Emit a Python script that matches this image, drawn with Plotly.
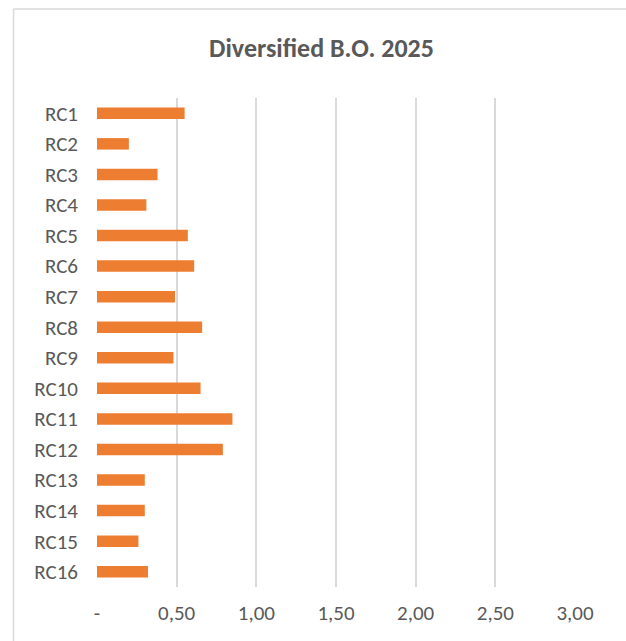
import plotly.graph_objects as go

categories = ["RC1", "RC2", "RC3", "RC4", "RC5", "RC6", "RC7", "RC8",
              "RC9", "RC10", "RC11", "RC12", "RC13", "RC14", "RC15", "RC16"]
values = [0.55, 0.20, 0.38, 0.31, 0.57, 0.61, 0.49, 0.66,
          0.48, 0.65, 0.85, 0.79, 0.30, 0.30, 0.26, 0.32]
tick_vals = [0, 0.5, 1.0, 1.5, 2.0, 2.5, 3.0]
tick_text = ["-", "0,50", "1,00", "1,50", "2,00", "2,50", "3,00"]
title_text = "Diversified B.O. 2025"

W, H = 626, 641
ML, MR, MT, MB = 97, 51, 98, 54
PW, PH = W - ML - MR, H - MT - MB

def px_x(px):
    return (px - ML) / PW

def px_y(py):
    return (H - MB - py) / PH

FONT = "Calibri, Carlito, Lato, sans-serif"

fig = go.Figure(go.Bar(
    x=values, y=categories, orientation="h",
    marker=dict(color="#ED7D31", line=dict(width=0)),
))

fig.update_layout(
    width=W, height=H,
    margin=dict(l=ML, r=MR, t=MT, b=MB),
    paper_bgcolor="white", plot_bgcolor="white",
    bargap=0.624,
    showlegend=False,
    title=dict(text=title_text, x=321.5 / W, xanchor="center",
               y=1 - 48 / H, yanchor="middle",
               font=dict(family=FONT, size=26, color="#595959", weight="bold")),
    xaxis=dict(range=[0, 3.0], tickvals=tick_vals, ticktext=tick_text,
               showgrid=True, gridcolor="#d9d9d9", gridwidth=1.5,
               zeroline=False, showline=False, ticks="",
               ticklabelstandoff=11,
               tickfont=dict(family=FONT, size=21, color="#595959")),
    yaxis=dict(autorange="reversed", showgrid=False, zeroline=False,
               showline=False, ticks="", ticklabelstandoff=18,
               tickfont=dict(family=FONT, size=21, color="#595959")),
    shapes=[
        dict(type="line", xref="paper", yref="paper",
             x0=px_x(13.5), x1=px_x(700), y0=px_y(9), y1=px_y(9),
             line=dict(color="#d9d9d9", width=1.5)),
        dict(type="line", xref="paper", yref="paper",
             x0=px_x(13.5), x1=px_x(13.5), y0=px_y(9), y1=px_y(700),
             line=dict(color="#d9d9d9", width=1.5)),
    ],
)

fig.write_html("out.html")
